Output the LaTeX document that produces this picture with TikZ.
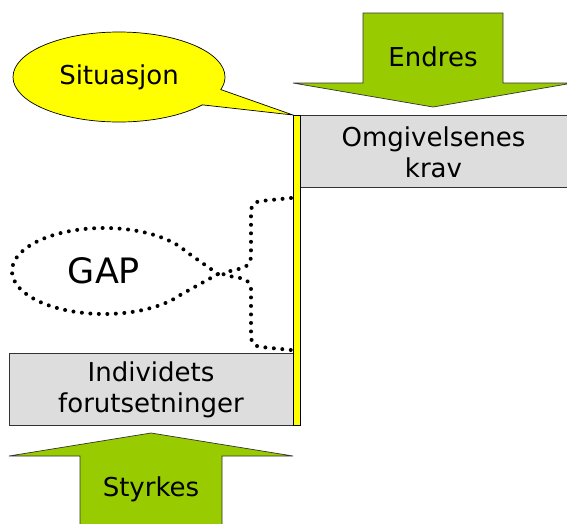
\documentclass[tikz,border=0pt]{standalone}
\usepackage{fontspec}
\setmainfont{DejaVu Sans}
\usetikzlibrary{shapes.callouts,shapes.geometric}
\definecolor{arrgreen}{HTML}{99CC00}
\definecolor{boxgray}{HTML}{DDDDDD}
\definecolor{yel}{HTML}{FFFF00}
\tikzset{
  txt/.style={font=\fontsize{26}{31}\selectfont, align=center, inner sep=0pt},
  greenarrow/.style={fill=arrgreen, draw=black!80, line width=0.7pt},
  graybox/.style={fill=boxgray, draw=black!80, line width=0.8pt},
  dotline/.style={draw=black, line width=4pt, dash pattern=on 0pt off 8.5pt, line cap=round},
}
\begin{document}
\begin{tikzpicture}[x=1pt,y=-1pt]
\useasboundingbox (0,0) rectangle (567,523);
\clip (0,0) rectangle (567,523);
% top arrow
\draw[greenarrow] (363,13) -- (503,13) -- (503,83) -- (573,83) -- (433,107) -- (293,83) -- (363,83) -- cycle;
\node[txt] (endres) at (433,57) {Endres};
% bottom arrow
\draw[greenarrow] (80,530) -- (80,456) -- (9,456) -- (151,433) -- (293,456) -- (222,456) -- (222,530) -- cycle;
\node[txt] (styrkes) at (151,489) {Styrkes};
% boxes
\draw[graybox] (300,115) rectangle (580,187);
\node[txt] (omg) at (433.5,152) {Omgivelsenes\\krav};
\draw[graybox] (9,353) rectangle (293,425);
\node[txt] (ind) at (151,390) {Individets\\forutsetninger};
% yellow bar
\draw[fill=yel, draw=black, line width=0.8pt] (293,115) rectangle (300,425);
\coordinate (bartop) at (293,115);
% Situasjon callout
\node[ellipse callout, fill=yel, draw=black, line width=0.7pt, minimum width=212, minimum height=90, inner sep=0pt,
  callout absolute pointer={(bartop)}, callout pointer arc=22, font=\fontsize{26}{31}\selectfont] (sit) at (119,77) {Situasjon};
% GAP callout
\coordinate (gaptip) at (218,274);
\node[ellipse callout, dotline, minimum width=184, minimum height=86, inner sep=0pt,
  callout absolute pointer={(gaptip)}, callout pointer arc=60, font=\fontsize{35}{42}\selectfont] (gap) at (104,271) {GAP};
% bracket
\draw[dotline, rounded corners=9pt] (291,198) -- (251,202) -- (251,266) -- (gaptip) -- (251,280) -- (251,346) -- (291,350);
\end{tikzpicture}
\end{document}
